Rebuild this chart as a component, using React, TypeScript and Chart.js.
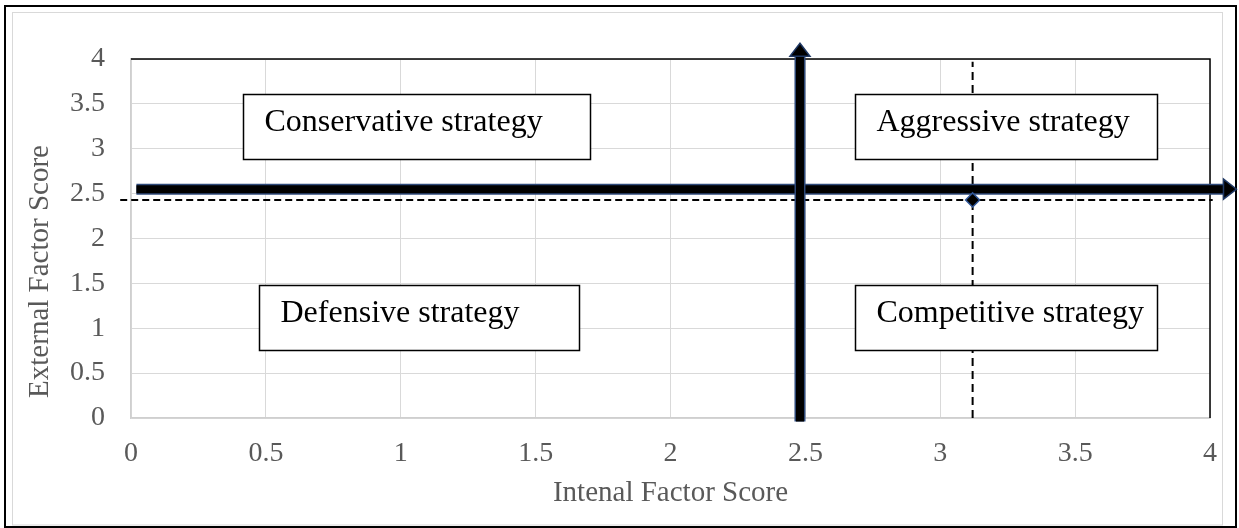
import React, { useEffect, useRef } from 'react';
import { Chart, registerables } from 'chart.js';

Chart.register(...registerables);

// ---- Data ----
const xTickLabels = ['0', '0.5', '1', '1.5', '2', '2.5', '3', '3.5', '4'];
const yTickLabels = ['0', '0.5', '1', '1.5', '2', '2.5', '3', '3.5', '4'];
const axisMin = 0;
const axisMax = 4;
const axisStep = 0.5;

const xAxisTitle = 'Intenal Factor Score';
const yAxisTitle = 'External Factor Score';

// Position of the organisation (IFE, EFE)
const positionPoint = [{ x: 3.12, y: 2.43 }];
// Dashed guides through the point
const horizontalGuide = [{ x: -0.04, y: 2.43 }, { x: 4.01, y: 2.43 }];
const verticalGuide = [{ x: 3.12, y: 0 }, { x: 3.12, y: 3.97 }];
// Thick quadrant axes (arrows)
const horizontalArrow = [{ x: 0.02, y: 2.55 }, { x: 4.05, y: 2.55 }];
const verticalArrow = [{ x: 2.48, y: -0.04 }, { x: 2.48, y: 4.03 }];

const quadrantNames = ['Conservative strategy', 'Aggressive strategy', 'Defensive strategy', 'Competitive strategy'];

const FONT = "'Liberation Serif', 'Times New Roman', serif";

// quadrant text boxes (in data units: x0, x1, yTop, yBottom)
const boxLayout = [
  [0.415, 1.702, 3.61, 2.886],
  [2.684, 3.804, 3.61, 2.886],
  [0.4745, 1.661, 1.482, 0.758],
  [2.684, 3.804, 1.482, 0.758],
];

const framePlugin = {
  id: 'frame',
  beforeDraw(chart: any) {
    const { ctx, width, height } = chart;
    ctx.save();
    ctx.fillStyle = '#ffffff';
    ctx.fillRect(0, 0, width, height);
    ctx.strokeStyle = '#000000';
    ctx.lineWidth = 2;
    ctx.strokeRect(5, 6, width - 8, height - 7);
    ctx.strokeStyle = '#d9d9d9';
    ctx.lineWidth = 1;
    ctx.strokeRect(12.5, 12.5, width - 29, height - 15.5);
    ctx.restore();
  },
  beforeDatasetsDraw(chart: any) {
    const { ctx, chartArea } = chart;
    ctx.save();
    ctx.strokeStyle = '#000000';
    ctx.lineWidth = 1.5;
    ctx.beginPath();
    ctx.moveTo(chartArea.left, chartArea.top);
    ctx.lineTo(chartArea.right, chartArea.top);
    ctx.lineTo(chartArea.right, chartArea.bottom);
    ctx.stroke();
    ctx.restore();
  },
  afterDraw(chart: any) {
    // y axis title, drawn slightly below the plot centre as in the reference
    const { ctx, chartArea } = chart;
    ctx.save();
    ctx.translate(40, (chartArea.top + chartArea.bottom) / 2 + 33);
    ctx.rotate(-Math.PI / 2);
    ctx.fillStyle = '#595959';
    ctx.font = `29px ${FONT}`;
    ctx.textAlign = 'center';
    ctx.textBaseline = 'middle';
    ctx.fillText(yAxisTitle, 0, 0);
    ctx.restore();
  },
};

const arrowPlugin = {
  id: 'arrowHeads',
  afterDatasetsDraw(chart: any) {
    const { ctx } = chart;
    chart.data.datasets.forEach((ds: any, i: number) => {
      if (!ds.arrowHead) return;
      const pts = chart.getDatasetMeta(i).data;
      if (pts.length < 2) return;
      const a = pts[pts.length - 2];
      const b = pts[pts.length - 1];
      const dx = b.x - a.x;
      const dy = b.y - a.y;
      const len = Math.hypot(dx, dy) || 1;
      const ux = dx / len;
      const uy = dy / len;
      const px = -uy;
      const py = ux;
      const headLen = 13;
      const halfW = 10;
      ctx.save();
      ctx.beginPath();
      ctx.moveTo(b.x + ux * headLen, b.y + uy * headLen);
      ctx.lineTo(b.x + px * halfW, b.y + py * halfW);
      ctx.lineTo(b.x - px * halfW, b.y - py * halfW);
      ctx.closePath();
      ctx.fillStyle = '#000000';
      ctx.fill();
      ctx.strokeStyle = '#1f3864';
      ctx.lineWidth = 1.5;
      ctx.stroke();
      ctx.restore();
    });
  },
};

const boxPlugin = {
  id: 'quadrantBoxes',
  afterDatasetsDraw(chart: any) {
    const { ctx, scales } = chart;
    const xs = scales.x;
    const ys = scales.y;
    ctx.save();
    quadrantNames.forEach((name, i) => {
      const [x0, x1, yt, yb] = boxLayout[i];
      const left = Math.round(xs.getPixelForValue(x0)) + 0.5;
      const right = Math.round(xs.getPixelForValue(x1)) + 0.5;
      const top = Math.round(ys.getPixelForValue(yt)) + 0.5;
      const bottom = Math.round(ys.getPixelForValue(yb)) + 0.5;
      ctx.fillStyle = '#ffffff';
      ctx.fillRect(left, top, right - left, bottom - top);
      ctx.strokeStyle = '#000000';
      ctx.lineWidth = 1.5;
      ctx.strokeRect(left, top, right - left, bottom - top);
      ctx.fillStyle = '#000000';
      ctx.font = `32px ${FONT}`;
      ctx.textAlign = 'left';
      ctx.textBaseline = 'alphabetic';
      ctx.fillText(name, left + 21, top + 36);
    });
    ctx.restore();
  },
};

export default function App() {
  const canvasRef = useRef<HTMLCanvasElement | null>(null);

  useEffect(() => {
    document.body.style.margin = '0';
    const canvas = canvasRef.current;
    if (!canvas) return;
    const chart = new Chart(canvas, {
      type: 'scatter',
      data: {
        datasets: [
          {
            label: 'h-guide',
            data: horizontalGuide,
            showLine: true,
            borderColor: '#000000',
            borderWidth: 2,
            borderDash: [7, 4],
            pointRadius: 0,
            clip: false,
            order: 10,
          } as any,
          {
            label: 'v-guide',
            data: verticalGuide,
            showLine: true,
            borderColor: '#000000',
            borderWidth: 2,
            borderDash: [8, 5],
            pointRadius: 0,
            clip: false,
            order: 9,
          } as any,
          {
            label: 'h-arrow-outline',
            data: horizontalArrow,
            showLine: true,
            borderColor: '#2f4a7a',
            borderWidth: 11,
            borderCapStyle: 'butt',
            pointRadius: 0,
            clip: false,
            order: 6,
          } as any,
          {
            label: 'h-arrow',
            data: horizontalArrow,
            showLine: true,
            borderColor: '#000000',
            borderWidth: 8,
            borderCapStyle: 'butt',
            pointRadius: 0,
            clip: false,
            arrowHead: true,
            order: 5,
          } as any,
          {
            label: 'v-arrow-outline',
            data: verticalArrow,
            showLine: true,
            borderColor: '#2f4a7a',
            borderWidth: 11,
            borderCapStyle: 'butt',
            pointRadius: 0,
            clip: false,
            order: 4,
          } as any,
          {
            label: 'v-arrow',
            data: verticalArrow,
            showLine: true,
            borderColor: '#000000',
            borderWidth: 8,
            borderCapStyle: 'butt',
            pointRadius: 0,
            clip: false,
            arrowHead: true,
            order: 3,
          } as any,
          {
            label: 'position',
            data: positionPoint,
            showLine: false,
            pointStyle: 'rectRot',
            pointRadius: 7,
            backgroundColor: '#000000',
            borderColor: '#2f5597',
            borderWidth: 1.5,
            clip: false,
            order: 1,
          } as any,
        ],
      },
      options: {
        animation: false,
        responsive: false,
        layout: { padding: { left: 0, right: 29, top: 59, bottom: 0 } },
        plugins: {
          legend: { display: false },
          tooltip: { enabled: false },
        },
        scales: {
          x: {
            type: 'linear',
            min: axisMin,
            max: axisMax,
            ticks: {
              stepSize: axisStep,
              padding: 19,
              color: '#595959',
              font: { family: FONT, size: 28 },
              callback: (v: any, i: number) => xTickLabels[i] ?? String(v),
            },
            grid: { color: '#d9d9d9', lineWidth: 1, drawTicks: false },
            border: { display: true, color: '#cfcfcf', width: 1.5 },
            title: {
              display: true,
              text: xAxisTitle,
              color: '#595959',
              font: { family: FONT, size: 29 },
              padding: { top: 0, bottom: 17 },
            },
            afterFit: (scale: any) => {
              scale.height = 110;
            },
          },
          y: {
            type: 'linear',
            min: axisMin,
            max: axisMax,
            ticks: {
              stepSize: axisStep,
              padding: 26,
              color: '#595959',
              font: { family: FONT, size: 28 },
              callback: (v: any, i: number) => yTickLabels[i] ?? String(v),
            },
            grid: { color: '#d9d9d9', lineWidth: 1, drawTicks: false },
            border: { display: true, color: '#cfcfcf', width: 1.5 },
            title: { display: false, text: yAxisTitle },
            afterFit: (scale: any) => {
              scale.width = 131;
            },
          },
        },
      } as any,
      plugins: [framePlugin, arrowPlugin, boxPlugin],
    });
    return () => chart.destroy();
  }, []);

  return (
    <div style={{ position: 'relative', width: 1239, height: 528 }}>
      <canvas ref={canvasRef} width={1239} height={528} style={{ display: 'block' }} />
    </div>
  );
}
